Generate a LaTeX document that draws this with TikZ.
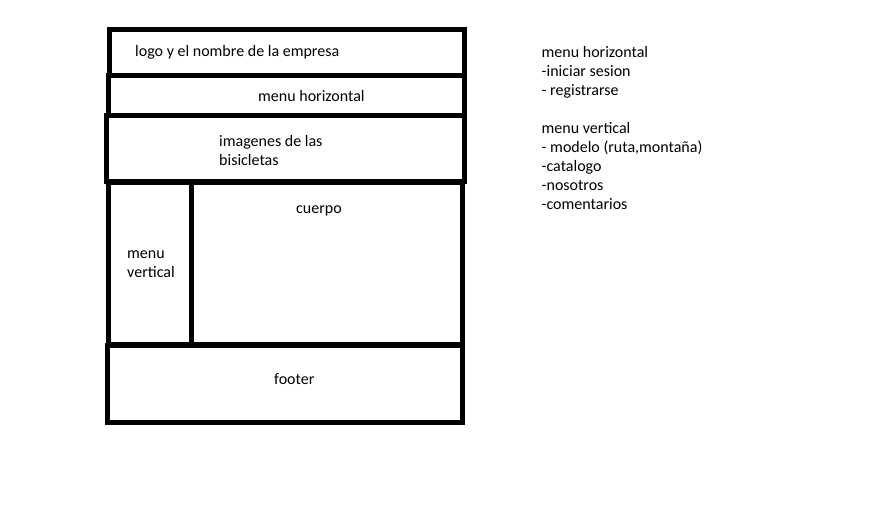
\documentclass[tikz,border=0pt]{standalone}
\usepackage{fontspec}
\setmainfont{Carlito}
\begin{document}
\begin{tikzpicture}[x=1pt,y=-1pt,
  box/.style={line width=5pt},
  lbl/.style={inner sep=0pt, anchor=base west, font=\fontsize{16}{19}\selectfont, align=left}]
\useasboundingbox (0,0) rectangle (876,513);
\fill[white] (0,0) rectangle (876,513);
% boxes
\draw[box] (109.5,29.5) rectangle (464,75.5);
\draw[box] (108.5,76) rectangle (464,115.5);
\draw[box] (106.5,116) rectangle (464,182);
\draw[box] (108.5,183) rectangle (462.5,344.5);
\draw[box] (191,183) -- (191,344.5);
\draw[box] (107.5,345) rectangle (462.5,422);
% labels (base = baseline of the last line)
\node[lbl] (logo) at (135,57) {logo y el nombre de la empresa};
\node[lbl] (mh) at (258,102) {menu horizontal};
\node[lbl] (img) at (219,165.5) {imagenes de las\\bisicletas};
\node[lbl] (cuerpo) at (296,213.5) {cuerpo};
\node[lbl] (mv) at (127,277) {menu\\vertical};
\node[lbl] (footer) at (274,384.5) {footer};
\node[lbl] (notes) at (541.5,209.5) {menu horizontal\\-iniciar sesion\\- registrarse\\[19pt]menu vertical\\- modelo (ruta,montaña)\\-catalogo\\-nosotros\\-comentarios};
\end{tikzpicture}
\end{document}
